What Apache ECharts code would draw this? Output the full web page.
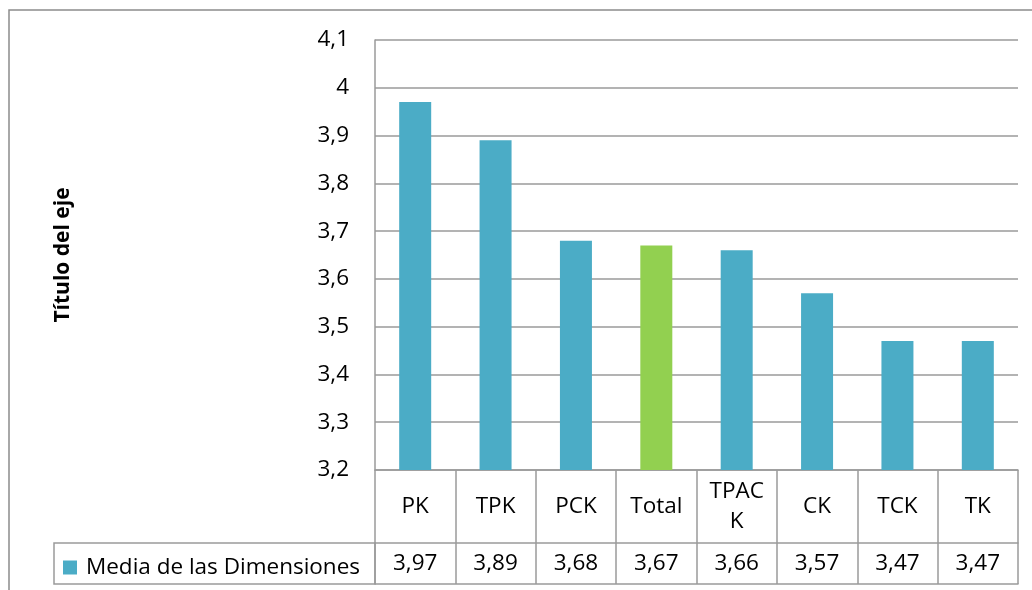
<!DOCTYPE html>
<html>
<head>
<meta charset="utf-8">
<style>html,body{margin:0;padding:0;background:#fff;}#c{width:1032px;height:590px;}</style>
<script src="https://cdn.jsdelivr.net/npm/echarts@6/dist/echarts.min.js"></script>
</head>
<body>
<div id="c"></div>
<script>
var categories = ['PK', 'TPK', 'PCK', 'Total', 'TPACK', 'CK', 'TCK', 'TK'];
var values = [3.97, 3.89, 3.68, 3.67, 3.66, 3.57, 3.47, 3.47];
var seriesName = 'Media de las Dimensiones';
var yTicks = [3.2, 3.3, 3.4, 3.5, 3.6, 3.7, 3.8, 3.9, 4, 4.1];
var axisTitle = 'Título del eje';

var FONT = 'Open Sans';
var FS = 22.5;
var BLUE = '#4BACC6', GREEN = '#92D050', LINE = '#9a9a9a';
function fmt(v) { return String(parseFloat(Number(v).toFixed(2))).replace('.', ','); }

var chart = echarts.init(document.getElementById('c'));
chart.setOption({
  animation: false,
  textStyle: { fontFamily: FONT },
  grid: { left: 375, right: 14, top: 40, bottom: 120, containLabel: false },
  legend: {
    data: [seriesName], left: 63, top: 556, icon: 'rect', itemWidth: 14, itemHeight: 14,
    itemGap: 0, padding: 0,
    textStyle: { fontFamily: FONT, fontSize: FS, color: '#000', padding: [0, 0, 0, 4] }
  },
  graphic: [
    { type: 'rect', shape: { x: 9, y: 10, width: 1040, height: 620 }, style: { fill: 'none', stroke: '#8c8c8c', lineWidth: 1.5 }, silent: true },
    { type: 'rect', shape: { x: 54, y: 543, width: 321, height: 41 }, style: { fill: 'none', stroke: LINE, lineWidth: 1.5 }, silent: true }
  ],
  xAxis: [
    {
      type: 'category', data: categories, position: 'bottom',
      axisLine: { show: true, lineStyle: { color: LINE, width: 1.5 } },
      axisTick: { show: true, interval: 0, length: 114, lineStyle: { color: LINE, width: 1.5 } },
      axisLabel: {
        interval: 0, margin: 37, verticalAlign: 'middle', fontFamily: FONT, fontSize: FS, color: '#000',
        lineHeight: 30, width: 64, overflow: 'breakAll'
      }
    },
    {
      type: 'category', data: categories, position: 'bottom', offset: 73,
      axisLine: { show: true, lineStyle: { color: LINE, width: 1.5 } },
      axisTick: { show: false },
      axisLabel: {
        interval: 0, margin: 21, verticalAlign: 'middle', fontFamily: FONT, fontSize: FS, color: '#000',
        formatter: function (v, i) { return fmt(values[i]); }
      }
    },
    {
      type: 'category', data: categories, position: 'bottom', offset: 114,
      axisLine: { show: true, lineStyle: { color: LINE, width: 1.5 } },
      axisTick: { show: false }, axisLabel: { show: false }
    }
  ],
  yAxis: {
    type: 'value', min: yTicks[0], max: yTicks[yTicks.length - 1], interval: 0.1,
    name: axisTitle, nameLocation: 'middle', nameGap: 301, nameRotate: 90,
    nameTextStyle: { fontFamily: FONT, fontSize: 21, fontWeight: 'bold', color: '#000' },
    axisLine: { show: true, lineStyle: { color: LINE, width: 1.5 } },
    axisTick: { show: false },
    splitLine: { show: true, lineStyle: { color: LINE, width: 1.5 } },
    axisLabel: { margin: 26, fontFamily: FONT, fontSize: FS, color: '#000', formatter: fmt }
  },
  series: [{
    name: seriesName, type: 'bar', barWidth: 32, xAxisIndex: 0,
    itemStyle: { color: BLUE },
    data: values.map(function (v, i) {
      return categories[i] === 'Total' ? { value: v, itemStyle: { color: GREEN } } : v;
    })
  }]
});
</script>
</body>
</html>
